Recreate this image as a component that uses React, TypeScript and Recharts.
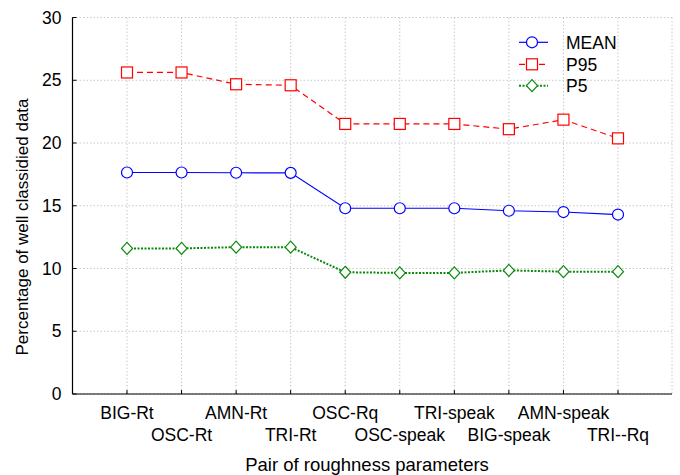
import React from 'react';
import { LineChart, Line, XAxis, YAxis, CartesianGrid, Legend, Label } from 'recharts';

const categories = ['BIG-Rt', 'OSC-Rt', 'AMN-Rt', 'TRI-Rt', 'OSC-Rq', 'OSC-speak', 'TRI-speak', 'BIG-speak', 'AMN-speak', 'TRI--Rq'];
const meanValues = [17.65, 17.65, 17.63, 17.62, 14.8, 14.8, 14.8, 14.6, 14.5, 14.3];
const p95Values = [25.62, 25.62, 24.68, 24.6, 21.52, 21.52, 21.52, 21.1, 21.86, 20.37];
const p5Values = [11.6, 11.6, 11.7, 11.7, 9.7, 9.65, 9.65, 9.85, 9.75, 9.75];
const yTicks = [0, 5, 10, 15, 20, 25, 30];

const data = categories.map((name, i) => ({ name, MEAN: meanValues[i], P95: p95Values[i], P5: p5Values[i] }));

const FONT = '"Liberation Sans", Arial, sans-serif';
const BLUE = '#0000ff';
const RED = '#ff0000';
const GREEN = '#0a8a0a';

const CircleDot = (props: any) => {
  const { cx, cy } = props;
  if (cx == null || cy == null) return null;
  return <circle cx={cx} cy={cy} r={5.5} fill="#fff" stroke={BLUE} strokeWidth={1.2} />;
};
const SquareDot = (props: any) => {
  const { cx, cy } = props;
  if (cx == null || cy == null) return null;
  return <rect x={cx - 5.5} y={cy - 5.5} width={11} height={11} fill="#fff" stroke={RED} strokeWidth={1.2} />;
};
const DiamondDot = (props: any) => {
  const { cx, cy } = props;
  if (cx == null || cy == null) return null;
  return <path d={`M${cx},${cy - 6}L${cx + 5.5},${cy}L${cx},${cy + 6}L${cx - 5.5},${cy}Z`} fill="#fff" stroke={GREEN} strokeWidth={1.2} />;
};

const XTick = (props: any) => {
  const { x, y, payload } = props;
  const idx = payload.index;
  const row2 = idx % 2 === 1;
  return (
    <g>
      <line x1={x} y1={y} x2={x} y2={y - 4} stroke="#000" strokeWidth={1} />
      <text x={x} y={y + (row2 ? 47 : 24.7)} textAnchor="middle" fontSize={17.5} fontFamily={FONT} fill="#000">
        {payload.value}
      </text>
    </g>
  );
};

const XTopTick = (props: any) => {
  const { x, y } = props;
  return <line x1={x} y1={y} x2={x} y2={y + 4} stroke="#000" strokeWidth={1} />;
};

const YTick = (props: any) => {
  const { x, y, payload } = props;
  return (
    <g>
      <line x1={x} y1={y} x2={x + 4} y2={y} stroke="#000" strokeWidth={1} />
      <text x={x - 11} y={y + 6} textAnchor="end" fontSize={17.5} fontFamily={FONT} fill="#000">
        {payload.value}
      </text>
    </g>
  );
};

const YRightTick = (props: any) => {
  const { x, y } = props;
  return <line x1={x} y1={y} x2={x - 4} y2={y} stroke="#000" strokeWidth={1} />;
};

const LegendContent = () => {
  const rows = [
    { name: 'MEAN', color: BLUE, dash: undefined, width: 1.2, kind: 'circle' },
    { name: 'P95', color: RED, dash: '6 4', width: 1.2, kind: 'square' },
    { name: 'P5', color: GREEN, dash: '2 1.5', width: 2, kind: 'diamond' },
  ];
  const ys = [14.3, 36.3, 57.7];
  return (
    <svg width={140} height={72} style={{ display: 'block' }}>
      {rows.map((r, i) => {
        const cy = ys[i];
        const cx = 22;
        return (
          <g key={r.name}>
            <line x1={9} y1={cy} x2={38} y2={cy} stroke={r.color} strokeWidth={r.width} strokeDasharray={r.dash} />
            {r.kind === 'circle' && <circle cx={cx} cy={cy} r={5.5} fill="#fff" stroke={r.color} strokeWidth={1.2} />}
            {r.kind === 'square' && <rect x={cx - 5.5} y={cy - 5.5} width={11} height={11} fill="#fff" stroke={r.color} strokeWidth={1.2} />}
            {r.kind === 'diamond' && (
              <path d={`M${cx},${cy - 6}L${cx + 5.5},${cy}L${cx},${cy + 6}L${cx - 5.5},${cy}Z`} fill="#fff" stroke={r.color} strokeWidth={1.2} />
            )}
            <text x={56} y={cy + 6.3} fontSize={17.5} fontFamily={FONT} fill="#000">
              {r.name}
            </text>
          </g>
        );
      })}
    </svg>
  );
};

export default function App() {
  return (
    <div style={{ position: 'absolute', left: 0, top: 0, width: 680, height: 475, background: '#fff' }}>
      <LineChart width={680} height={475} data={data} margin={{ top: 17.5, right: 8, bottom: 0, left: 12.5 }}>
        <CartesianGrid stroke="#c8c8c8" strokeDasharray="1.5 2" />
        <XAxis
          dataKey="name"
          interval={0}
          padding={{ left: 54.5, right: 54 }}
          height={81}
          tickSize={0}
          tickMargin={0}
          tickLine={false}
          axisLine={{ stroke: '#000', strokeWidth: 1.2 }}
          tick={<XTick />}
        >
          <Label
            content={() => (
              <text x={367} y={470.7} textAnchor="middle" fontSize={18.5} fontFamily={FONT} fill="#000">
                Pair of roughness parameters
              </text>
            )}
          />
        </XAxis>
        <XAxis
          xAxisId="top"
          orientation="top"
          dataKey="name"
          interval={0}
          padding={{ left: 54.5, right: 54 }}
          height={0}
          tickSize={0}
          tickMargin={0}
          tickLine={false}
          axisLine={{ stroke: '#000', strokeWidth: 1.2 }}
          tick={<XTopTick />}
        />
        <YAxis
          domain={[0, 30]}
          ticks={yTicks}
          width={60}
          tickSize={0}
          tickMargin={0}
          tickLine={false}
          axisLine={{ stroke: '#000', strokeWidth: 1.2 }}
          tick={<YTick />}
        >
          <Label
            content={() => (
              <text x={28} y={227} transform="rotate(-90 28 227)" textAnchor="middle" fontSize={17} fontFamily={FONT} fill="#000">
                Percentage of well classidied data
              </text>
            )}
          />
        </YAxis>
        <YAxis
          yAxisId="right"
          orientation="right"
          domain={[0, 30]}
          ticks={yTicks}
          width={0}
          tickSize={0}
          tickMargin={0}
          tickLine={false}
          axisLine={{ stroke: '#000', strokeWidth: 1.2 }}
          tick={<YRightTick />}
        />
        <Legend
          layout="horizontal"
          align="center"
          verticalAlign="middle"
          wrapperStyle={{ left: 510, top: 28, width: 140 }}
          content={<LegendContent />}
        />
        <Line
          xAxisId="top"
          yAxisId="right"
          dataKey="MEAN"
          stroke="none"
          dot={false}
          activeDot={false}
          legendType="none"
          isAnimationActive={false}
        />
        <Line dataKey="P95" stroke={RED} strokeWidth={1.2} strokeDasharray="6 4" dot={<SquareDot />} isAnimationActive={false} />
        <Line dataKey="MEAN" stroke={BLUE} strokeWidth={1.2} dot={<CircleDot />} isAnimationActive={false} />
        <Line dataKey="P5" stroke={GREEN} strokeWidth={2} strokeDasharray="2 1.5" dot={<DiamondDot />} isAnimationActive={false} />
      </LineChart>
    </div>
  );
}
